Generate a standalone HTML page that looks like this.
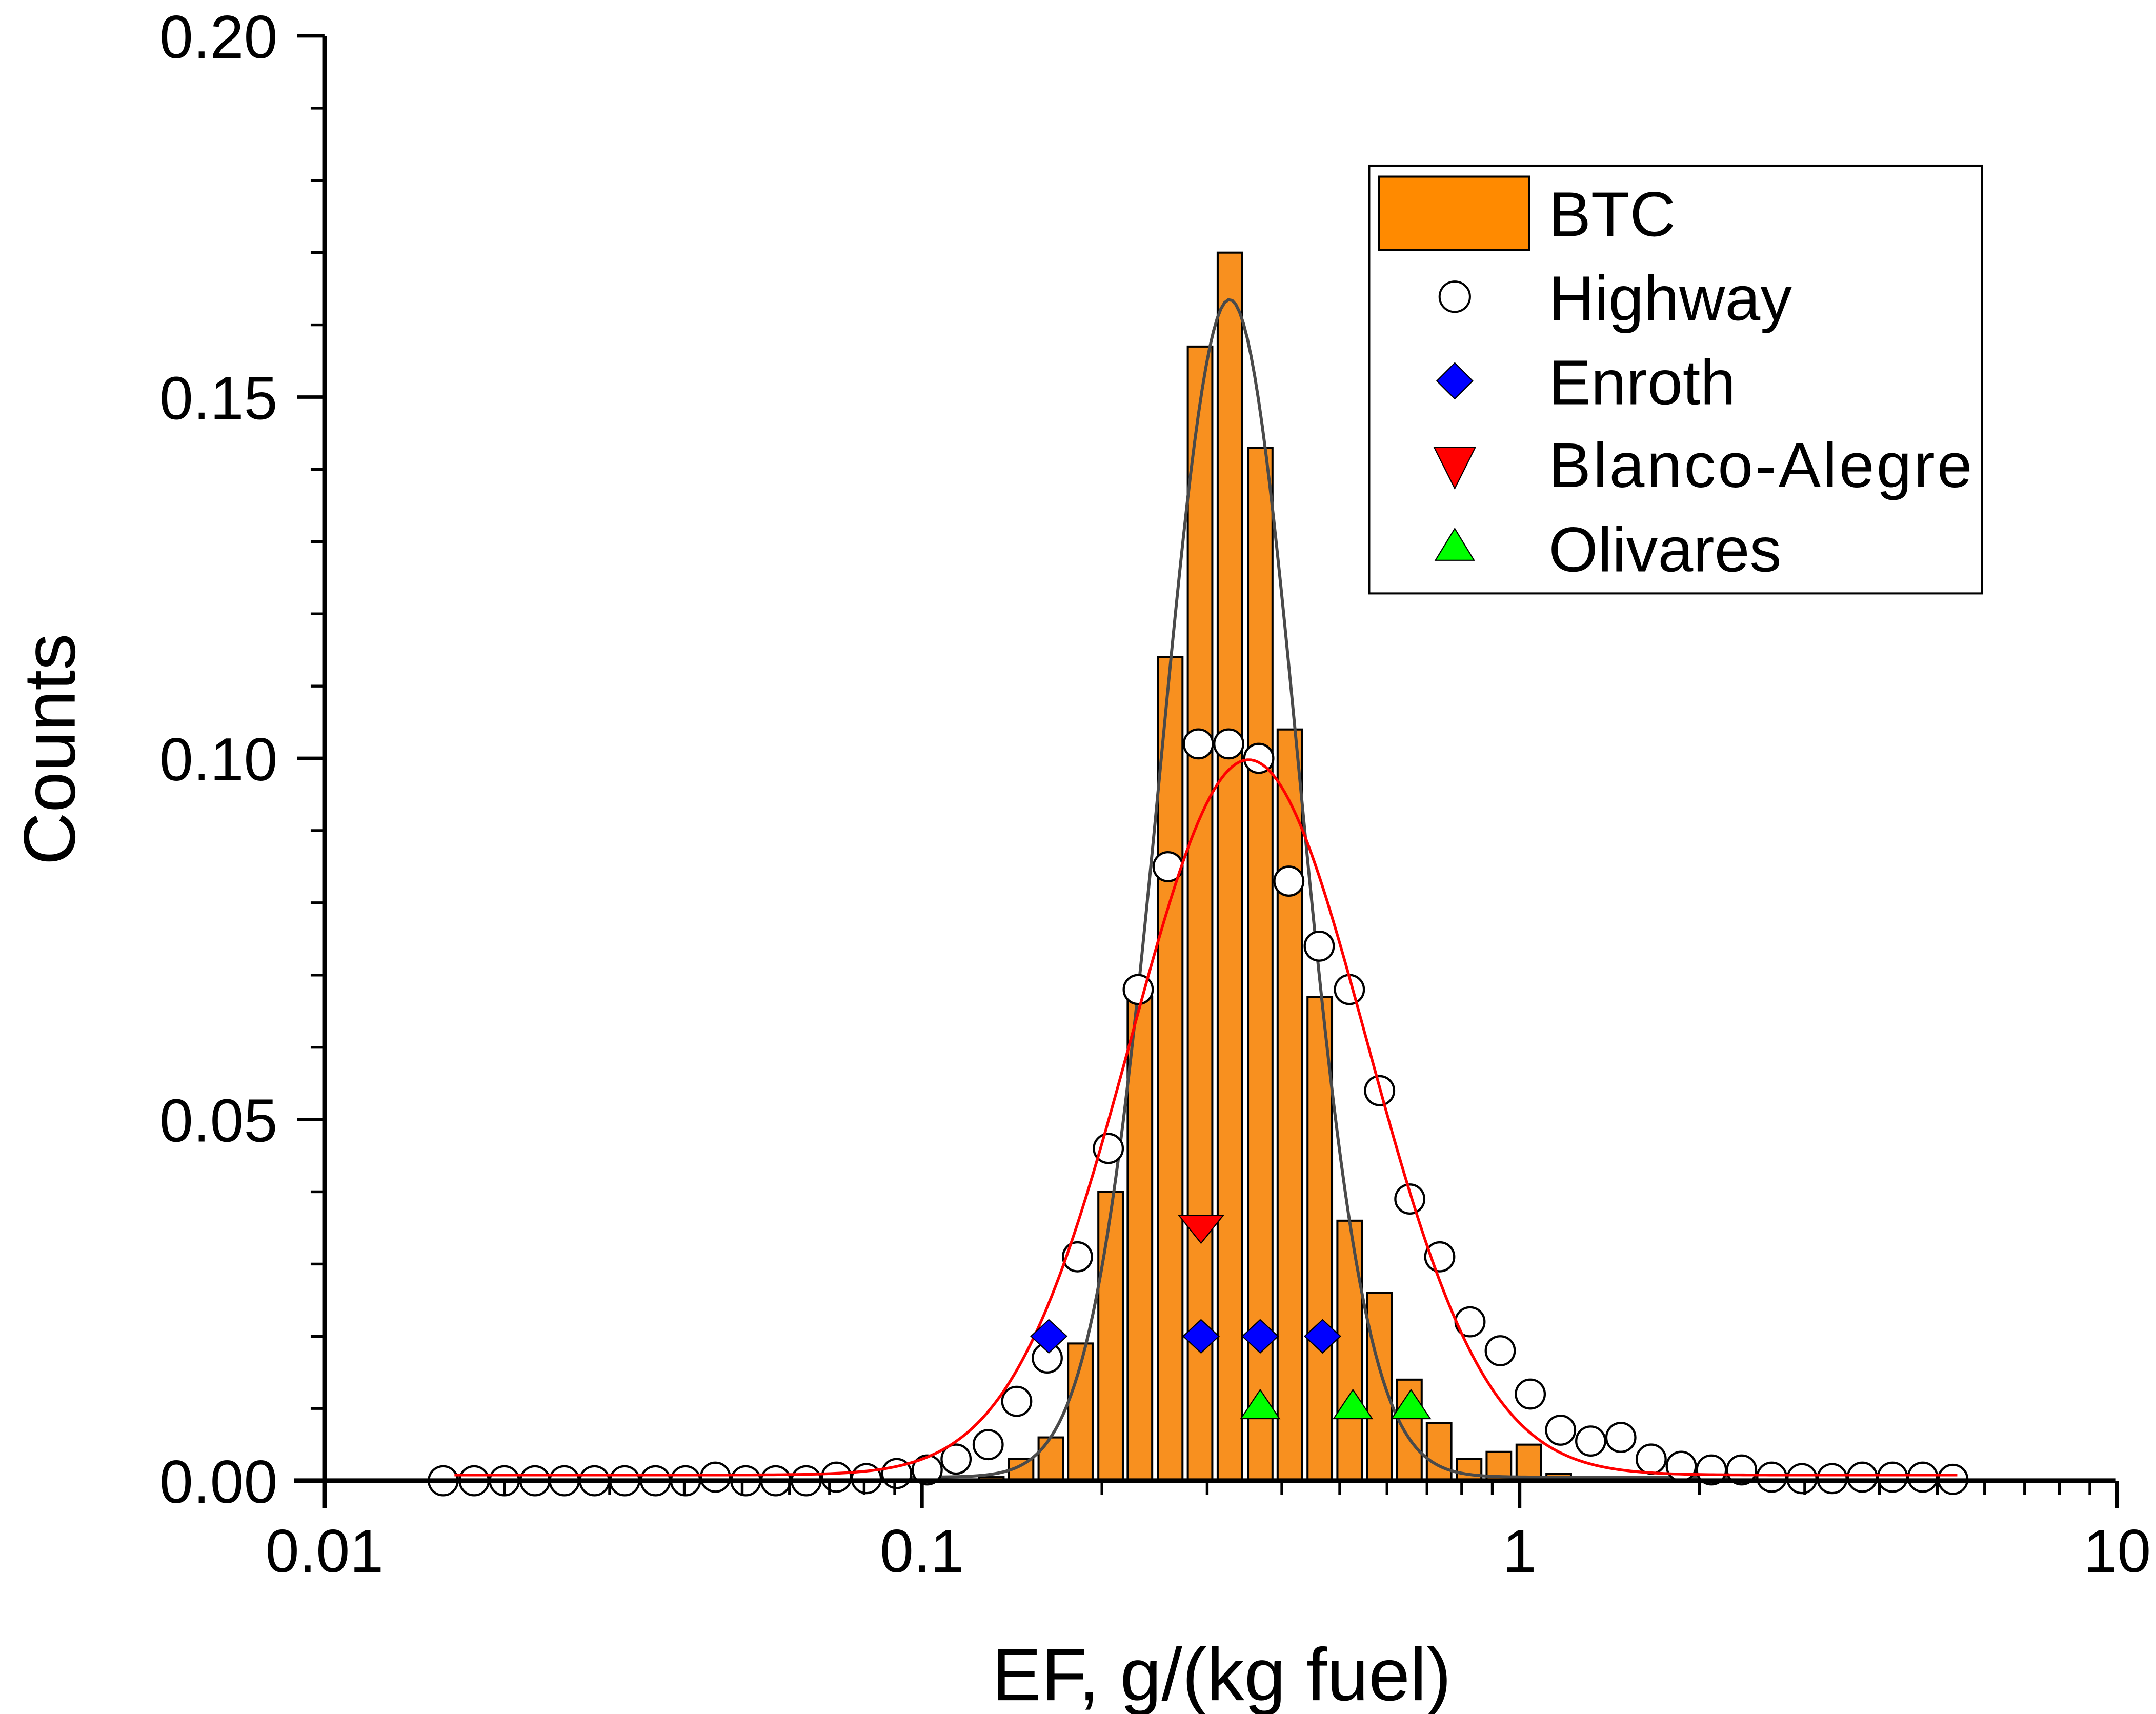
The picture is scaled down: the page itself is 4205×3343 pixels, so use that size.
<!DOCTYPE html>
<html><head><meta charset="utf-8"><style>
html,body{margin:0;padding:0;background:#fff;}
svg{display:block;font-family:"Liberation Sans",Arial,sans-serif;}
</style></head><body>
<svg id="chart" width="4205" height="3343" viewBox="0 0 1562 1242" xmlns="http://www.w3.org/2000/svg">
<rect x="0" y="0" width="1562" height="1242" fill="#fff"/>
<g id="plot"></g>
<g id="axes"></g>
<g id="legend">
  <rect x="992" y="120" width="444" height="310" fill="#fff" stroke="#000" stroke-width="1.5"/>
  <rect x="999" y="128" width="109" height="53" fill="#FF8A00" stroke="#000" stroke-width="1.5"/>
  <text x="1122" y="171" font-size="46">BTC</text>
  <circle cx="1054" cy="215" r="11" fill="#fff" stroke="#000" stroke-width="1.5"/>
  <text x="1122" y="232" font-size="46">Highway</text>
  <polygon points="1054,263 1067,276 1054,289 1041,276" fill="#0000FF" stroke="#000" stroke-width="0.8"/>
  <text x="1122" y="293" font-size="46">Enroth</text>
  <polygon points="1039,324 1069,324 1054,354" fill="#FF0000" stroke="#000" stroke-width="0.8"/>
  <text x="1122" y="353" font-size="46" textLength="307">Blanco-Alegre</text>
  <polygon points="1054,383 1068,406 1040,406" fill="#00FF00" stroke="#000" stroke-width="0.8"/>
  <text x="1122" y="414" font-size="46">Olivares</text>
</g>
<text x="885" y="1232" font-size="54" text-anchor="middle">EF, g/(kg fuel)</text>
<text x="0" y="0" font-size="53" text-anchor="middle" transform="translate(54,543) rotate(-90)">Counts</text>
</svg>
<script>
// ---- data ----
const btcEF = [0.132,0.148,0.166,0.186,0.209,0.234,0.263,0.295,0.331,0.372,0.417,0.468,0.525,0.589,0.661,0.741,0.832,0.933,1.047,1.175,1.318,1.479];
const btcCounts = [0.0005,0.003,0.006,0.019,0.040,0.067,0.114,0.157,0.170,0.143,0.104,0.067,0.036,0.026,0.014,0.008,0.003,0.004,0.005,0.001,0.0005,0.0003];
const highwayEF = [0.0158,0.0178,0.0200,0.0225,0.0252,0.0283,0.0318,0.0358,0.0402,0.0451,0.0507,0.0569,0.0640,0.0719,0.0807,0.0907,0.102,0.114,0.129,0.144,0.162,0.182,0.205,0.230,0.258,0.290,0.326,0.366,0.411,0.462,0.519,0.583,0.655,0.735,0.826,0.928,1.042,1.171,1.315,1.477,1.660,1.864,2.094,2.352,2.642,2.968,3.334,3.745,4.207,4.726,5.309];
const highwayCounts = [0,0,0,0,0,0,0,0,0,0.0005,0,0,0,0.0005,0.0003,0.001,0.0015,0.003,0.005,0.011,0.017,0.031,0.046,0.068,0.085,0.102,0.102,0.100,0.083,0.074,0.068,0.054,0.039,0.031,0.022,0.018,0.012,0.007,0.0055,0.006,0.003,0.002,0.0015,0.0015,0.0005,0.0003,0.0003,0.0005,0.0005,0.0005,0.0002];
const enrothEF = [0.163,0.293,0.368,0.468];
const enrothCounts = [0.020,0.020,0.020,0.020];
const blancoEF = [0.293];
const blancoCounts = [0.0348];
const olivaresEF = [0.368,0.526,0.658];
const olivaresCounts = [0.0105,0.0105,0.0105];
// fit params: [amplitude, centre EF, sigma (decades), offset]
const btcFit = [0.163, 0.327, 0.115, 0.0005];
const highwayFit = [0.099, 0.352, 0.198, 0.0008];
const fitRange = [0.0165, 5.4];
const xTicks = [0.01,0.1,1,10];
const xTickLabels = ["0.01","0.1","1","10"];
const yTicks = [0,0.05,0.10,0.15,0.20];
const yTickLabels = ["0.00","0.05","0.10","0.15","0.20"];

// ---- axes functions ----
const X0=235, DEC=433, Y0=1073, YTOP=26;
function xs(v){return X0+(Math.log10(v)+2)*DEC;}
function ys(v){return Y0-(v/0.2)*(Y0-YTOP);}
const NS="http://www.w3.org/2000/svg";
function mk(tag,attrs,parent){const e=document.createElementNS(NS,tag);for(const k in attrs)e.setAttribute(k,attrs[k]);parent.appendChild(e);return e;}
const plot=document.getElementById('plot'), axes=document.getElementById('axes');

btcEF.forEach((ef,i)=>{
  const l=Math.log10(ef);
  const xl=X0+(l+2-0.0205)*DEC-2, xr=X0+(l+2+0.0205)*DEC-2;
  const r=mk('rect',{x:xl,y:ys(btcCounts[i]),width:xr-xl,height:Y0-ys(btcCounts[i]),fill:'#F8901F',stroke:'#000','stroke-width':1.5},plot);
  
  
});
function fitPath(p){
  let d='';const l0=Math.log10(fitRange[0]),l1=Math.log10(fitRange[1]),lc=Math.log10(p[1]);
  for(let k=0;k<=400;k++){const l=l0+(l1-l0)*k/400;const v=p[3]+p[0]*Math.exp(-Math.pow(l-lc,2)/(2*p[2]*p[2]));d+=(k?'L':'M')+xs(Math.pow(10,l)).toFixed(2)+','+ys(v).toFixed(2);}
  return d;
}
const g1=mk('path',{d:fitPath(btcFit),fill:'none',stroke:'#4a4a4a','stroke-width':2.2},plot);


highwayEF.forEach((ef,i)=>{
  const c=mk('circle',{cx:xs(ef),cy:ys(highwayCounts[i]),r:10.5,fill:'#fff',stroke:'#000','stroke-width':1.6},plot);
  
  
});
const g2=mk('path',{d:fitPath(highwayFit),fill:'none',stroke:'#FF0000','stroke-width':2},plot);


enrothEF.forEach((ef,i)=>{
  const x=xs(ef),y=ys(enrothCounts[i]);
  const p=mk('polygon',{points:`${x},${y-12} ${x+13},${y} ${x},${y+12} ${x-13},${y}`,fill:'#0000FF',stroke:'#000','stroke-width':0.8},plot);
  
  
});
blancoEF.forEach((ef,i)=>{
  const x=xs(ef),y=ys(blancoCounts[i]);
  const p=mk('polygon',{points:`${x-16},${y-10} ${x+16},${y-10} ${x},${y+10}`,fill:'#FF0000',stroke:'#000','stroke-width':0.8},plot);
  
  
});
olivaresEF.forEach((ef,i)=>{
  const x=xs(ef),y=ys(olivaresCounts[i]);
  const p=mk('polygon',{points:`${x},${y-11} ${x+14},${y+10} ${x-14},${y+10}`,fill:'#00FF00',stroke:'#000','stroke-width':0.8},plot);
  
  
});

const ax=mk('line',{x1:213,y1:Y0,x2:1533,y2:Y0,stroke:'#000','stroke-width':3.5},axes);


const ay=mk('line',{x1:X0,y1:YTOP,x2:X0,y2:Y0+20,stroke:'#000','stroke-width':3.2},axes);


for(let d=-2;d<1;d++){for(let m=2;m<=9;m++){
  const x=xs(m*Math.pow(10,d));
  const t=mk('line',{x1:x,y1:Y0,x2:x,y2:Y0+10,stroke:'#000','stroke-width':2},axes);
  
  
}}
xTicks.forEach((v,i)=>{
  const x=xs(v);
  const t=mk('line',{x1:x,y1:Y0,x2:x,y2:Y0+20,stroke:'#000','stroke-width':2.5},axes);
  
  
  const tx=mk('text',{x:x,y:1139,'font-size':44,'text-anchor':'middle'},axes);
  tx.textContent=xTickLabels[i];
  
  
});
for(let k=1;k<20;k++){ if(k%5===0) continue;
  const y=ys(k*0.01);
  const t=mk('line',{x1:X0-10,y1:y,x2:X0,y2:y,stroke:'#000','stroke-width':2},axes);
  
  
}
yTicks.forEach((v,i)=>{
  const y=ys(v);
  const t=mk('line',{x1:X0-20,y1:y,x2:X0,y2:y,stroke:'#000','stroke-width':2.5},axes);
  
  
  const tx=mk('text',{x:201,y:y+16,'font-size':44,'text-anchor':'end'},axes);
  tx.textContent=yTickLabels[i];
  
  
});
</script>
</body></html>
